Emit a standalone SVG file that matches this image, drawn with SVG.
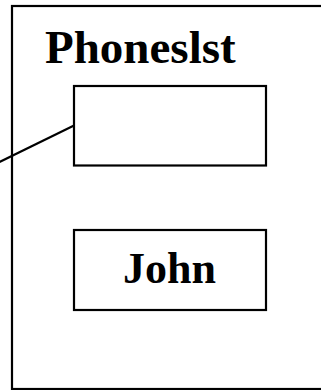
<svg xmlns="http://www.w3.org/2000/svg" width="321" height="390" viewBox="0 0 321 390">
  <style>
    .frame { fill: #ffffff; stroke: #000000; stroke-width: 2.2; }
    .box { fill: #ffffff; stroke: #000000; stroke-width: 2.2; }
    .link { fill: none; stroke: #000000; stroke-width: 2.2; }
    .title { font-family: "Liberation Serif", "Times New Roman", serif; font-weight: bold; font-size: 47px; fill: #000000; }
    .label { font-family: "Liberation Serif", "Times New Roman", serif; font-weight: bold; font-size: 44px; fill: #000000; }
  </style>
  <rect width="321" height="390" fill="#ffffff"/>

  <!-- outer container, open to the right -->
  <g id="phoneslst">
    <rect class="frame" x="12" y="6" width="320" height="383"/>
    <text class="title" x="45" y="63">Phoneslst</text>
  </g>

  <!-- empty reference slot -->
  <g id="slot">
    <rect class="box" x="74" y="86" width="192" height="79.5"/>
  </g>

  <!-- element holding a name -->
  <g id="john">
    <rect class="box" x="74" y="230" width="192" height="80"/>
    <text class="label" x="169.5" y="283" text-anchor="middle">John</text>
  </g>

  <g id="connectors">
    <line class="link" x1="-1" y1="162.2" x2="74" y2="125.6"/>
  </g>
</svg>
